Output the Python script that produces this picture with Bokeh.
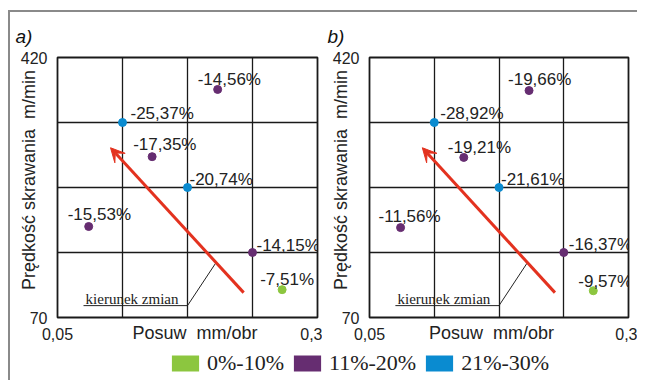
from bokeh.plotting import figure
from bokeh.models import (FixedTicker, Arrow, VeeHead, Legend, LegendItem,
                          ColumnDataSource, Range1d, Div)
from bokeh.layouts import column, row
from bokeh.core.properties import value
from bokeh.embed import file_html
from bokeh.resources import INLINE

# ---------------- data ----------------
feed = [0.080, 0.1125, 0.141, 0.175, 0.204, 0.2375, 0.266]
speed_a = [192.5, 332.5, 286.5, 245.0, 377.0, 157.5, 107.5]
speed_b = [191.0, 332.5, 285.5, 245.0, 375.5, 157.5, 106.0]
change_a = ["-15,53%", "-25,37%", "-17,35%", "-20,74%", "-14,56%", "-14,15%", "-7,51%"]
change_b = ["-11,56%", "-28,92%", "-19,21%", "-21,61%", "-19,66%", "-16,37%", "-9,57%"]
group = ["11%-20%", "21%-30%", "11%-20%", "21%-30%", "11%-20%", "11%-20%", "0%-10%"]
classes = ["0%-10%", "11%-20%", "21%-30%"]
panel_names = ["a)", "b)"]
x_tick_labels = {0.05: "0,05", 0.3: "0,3"}
y_tick_labels = {70: "70", 420: "420"}
x_grid = [0.1125, 0.175, 0.2375]
y_grid = [157.5, 245.0, 332.5]
arrow_start = (0.229, 103.5)
arrow_end = (0.101, 298.5)
note_line_x = [0.075, 0.175, 0.202]
note_line_y = [86.0, 86.0, 143.0]
note_pos = (0.077, 95.5)
note_text = "kierunek zmian"
x_title_a = "\u00a0\u00a0\u00a0Posuw\u00a0\u00a0mm/obr"
x_title_b = "Posuw\u00a0\u00a0mm/obr\u00a0\u00a0\u00a0"
y_title = "\u00a0\u00a0\u00a0Prędkość skrawania\u00a0\u00a0m/min"

# ---------------- styles ----------------
colors = {"0%-10%": "#8cc63f", "11%-20%": "#662d71", "21%-30%": "#0a8bd0"}
dx_a = [-21, 8, -19, 2, -20, 4, -22]
dy_a = [-12, -9, -12, -8, -10, -7, -10]
dx_b = [-22, 6, -16, 2, -21, 5, -15]
dy_b = [-11, -9, -10, -8, -11, -8, -9]

SANS = "Liberation Sans"
SERIF = "Liberation Serif"
FRAME_GRAY = "#8a8a8a"


def make_panel(speed, labels, dx, dy, name, xt, fw, left, right):
    p = figure(frame_width=fw, frame_height=260, toolbar_location=None, output_backend="svg",
               x_range=Range1d(0.05, 0.3), y_range=Range1d(70, 420),
               min_border_left=left, min_border_right=right,
               min_border_top=45, min_border_bottom=30)
    p.outline_line_color = "#1a1a1a"
    p.outline_line_width = 1.8
    p.title.text = name
    p.title.text_font = SANS
    p.title.text_font_size = "19px"
    p.title.text_font_style = "italic"
    p.title.text_color = "#111111"
    p.title.align = "left"
    p.title.offset = -42
    p.title.standoff = 22

    p.xaxis.ticker = FixedTicker(ticks=list(x_tick_labels.keys()))
    p.xaxis.major_label_overrides = x_tick_labels
    p.yaxis.ticker = FixedTicker(ticks=list(y_tick_labels.keys()))
    p.yaxis.major_label_overrides = y_tick_labels
    for ax in (p.xaxis[0], p.yaxis[0]):
        ax.axis_line_color = None
        ax.major_tick_line_color = None
        ax.minor_tick_line_color = None
        ax.major_label_text_font = SANS
        ax.major_label_text_font_size = "16px"
        ax.major_label_text_color = "#222222"
        ax.axis_label_text_font = SANS
        ax.axis_label_text_font_size = "18px"
        ax.axis_label_text_font_style = "normal"
        ax.axis_label_text_color = "#222222"
    p.xaxis.axis_label = xt
    p.yaxis.axis_label = y_title
    p.xaxis.major_label_standoff = 4
    p.yaxis.major_label_standoff = 4
    p.xaxis.axis_label_standoff = -20
    p.yaxis.axis_label_standoff = -21

    p.xgrid.ticker = FixedTicker(ticks=x_grid)
    p.ygrid.ticker = FixedTicker(ticks=y_grid)
    p.grid.grid_line_color = "#1a1a1a"
    p.grid.grid_line_width = 1.3
    p.grid.grid_line_alpha = 1.0

    p.line(note_line_x, note_line_y, line_color="#222222", line_width=1)
    p.text(x=[note_pos[0]], y=[note_pos[1]], text=[note_text],
           text_font=value(SERIF), text_font_size="15px", text_color="#222222",
           text_baseline="alphabetic", text_align="left")

    p.add_layout(Arrow(end=VeeHead(size=14, fill_color="#e3321f", line_color="#e3321f"),
                       x_start=arrow_start[0], y_start=arrow_start[1],
                       x_end=arrow_end[0], y_end=arrow_end[1],
                       line_color="#e3321f", line_width=3))

    src = ColumnDataSource(dict(x=feed, y=speed, lab=labels, dx=dx, dy=dy,
                                c=[colors[g] for g in group]))
    p.scatter(x="x", y="y", source=src, size=8, fill_color="c", line_color="c")
    p.text(x="x", y="y", text="lab", source=src, x_offset="dx", y_offset="dy",
           text_font=value(SANS), text_font_size="17px", text_color="#222222",
           text_baseline="alphabetic", text_align="left")
    return p


p1 = make_panel(speed_a, change_a, dx_a, dy_a, panel_names[0], x_title_a, 260, 47, 5)
p2 = make_panel(speed_b, change_b, dx_b, dy_b, panel_names[1], x_title_b, 259, 47, 9)

leg = figure(width=627, height=33, toolbar_location=None, output_backend="svg",
             x_range=Range1d(0, 1), y_range=Range1d(0, 1), min_border=0)
leg.outline_line_color = None
leg.axis.visible = False
leg.grid.visible = False
items = []
for c in classes:
    # off-screen proxy glyph, only used for the legend swatch
    r = leg.rect(x=[-5], y=[-5], width=0.1, height=0.1, fill_color=colors[c], line_color=None)
    items.append(LegendItem(label=value(c), renderers=[r]))
legend = Legend(items=items, orientation="horizontal", location=(158, 4),
                glyph_width=34, glyph_height=20, label_text_font=SERIF,
                label_text_font_size="22px", label_text_color="#222222",
                padding=0, margin=0, spacing=6, label_standoff=5,
                border_line_color=None, background_fill_alpha=0)
leg.add_layout(legend)

top_line = Div(width=629, height=2, margin=(10, 0, 0, 8),
               styles={"background-color": FRAME_GRAY})
left_line = Div(width=2, height=368, margin=0,
                styles={"background-color": FRAME_GRAY})
body = row(left_line, column(row(p1, p2), leg), margin=(0, 0, 0, 8))
layout = column(top_line, body)

open("out.html", "w").write(file_html(layout, INLINE))
